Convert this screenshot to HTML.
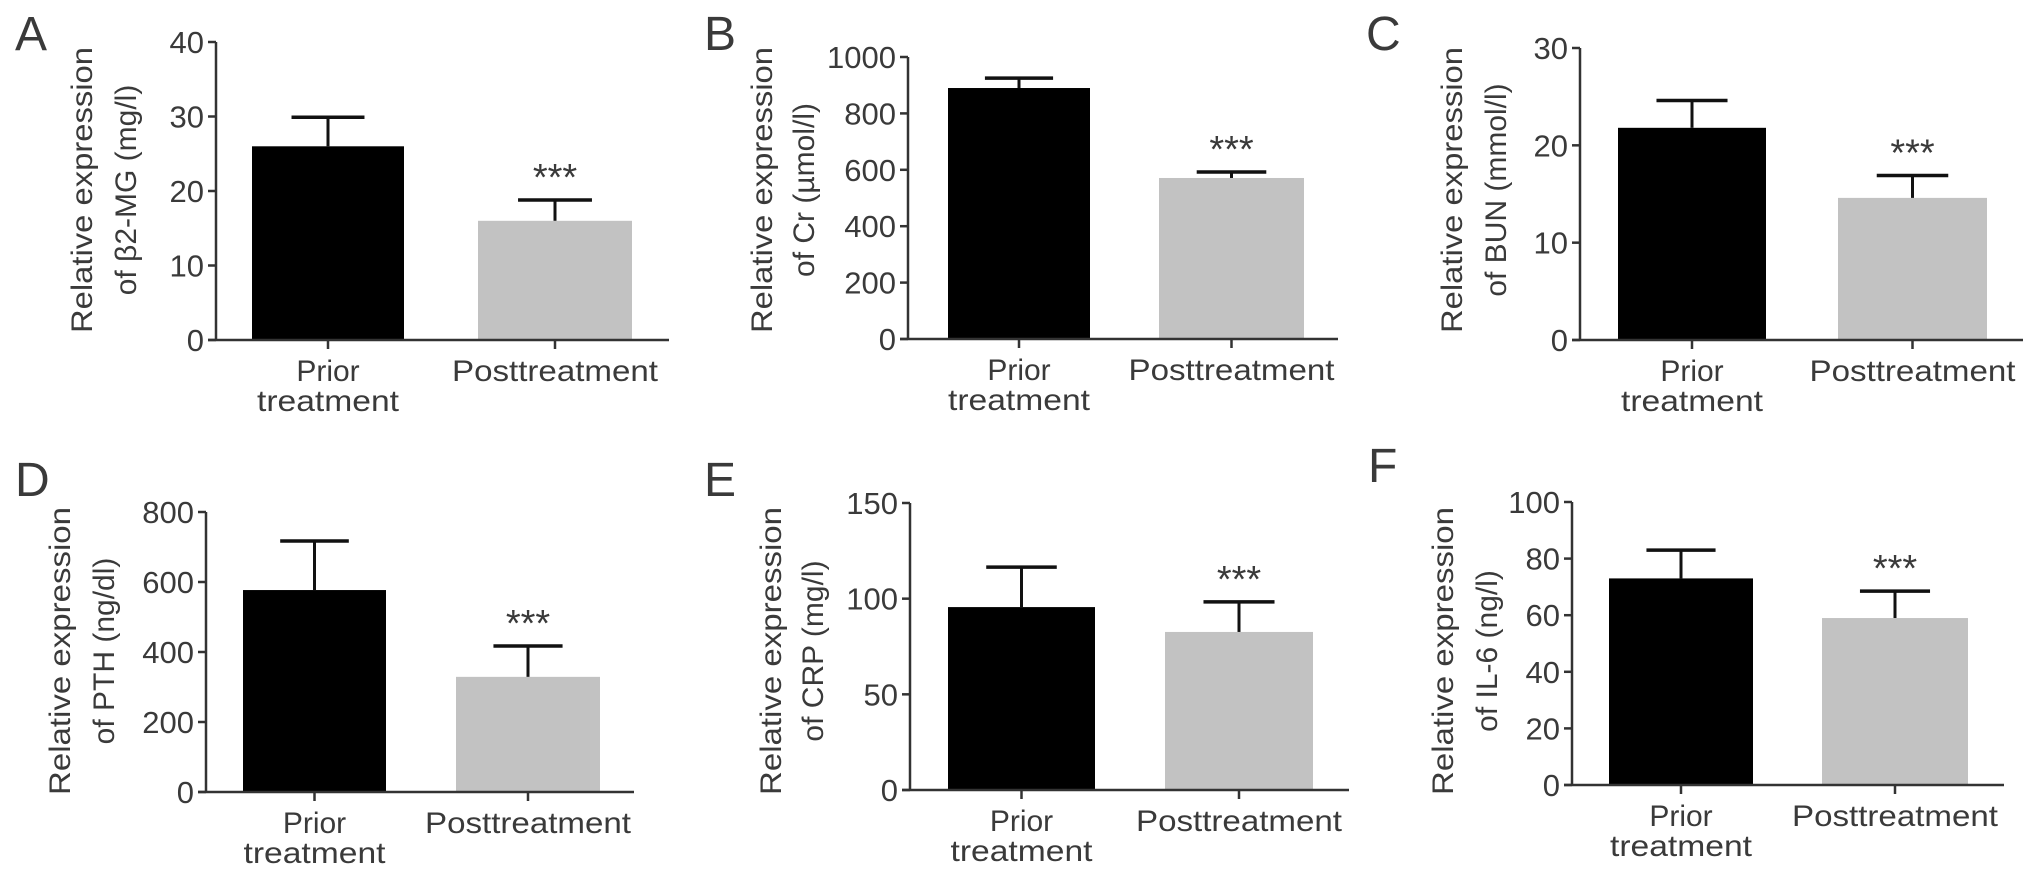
<!DOCTYPE html>
<html><head><meta charset="utf-8"><style>
html,body{margin:0;padding:0;background:#fff;}
svg text{font-family:"Liberation Sans",Arial,sans-serif;fill:#3a3a3a;}
</style></head><body>
<svg id="fig" width="2032" height="878" viewBox="0 0 2032 878" xmlns="http://www.w3.org/2000/svg"></svg>
<script>
const panelLetters = ["A","B","C","D","E","F"];
const categories = ["Prior treatment","Posttreatment"];
const yTitles1 = ["Relative expression","Relative expression","Relative expression","Relative expression","Relative expression","Relative expression"];
const yTitles2 = ["of \u03b22-MG (mg/l)","of Cr (\u00b5mol/l)","of BUN (mmol/l)","of PTH (ng/dl)","of CRP (mg/l)","of IL-6 (ng/l)"];
const yMaxes = [40, 1000, 30, 800, 150, 100];
const tickSteps = [10, 200, 10, 200, 50, 20];
const priorMeans = [26, 890, 21.8, 577, 95.6, 73];
const priorErrTops = [29.9, 925, 24.6, 717, 116.5, 83];
const postMeans = [16, 571, 14.6, 329, 82.6, 59];
const postErrTops = [18.8, 592, 16.9, 417, 98.3, 68.5];
const sigLabels = ["***","***","***","***","***","***"];

// layout (pixel geometry, not data)
const layout = [
 {ax:216,y0:340,yt:42,b1:[252,404],b2:[478,632],xe:669,lx:15,ly:50,t1:81,t2:125,tc:190,tl1:286,tl2:232},
 {ax:908,y0:339,yt:57,b1:[948,1090],b2:[1159,1304],xe:1338,lx:704,ly:50,t1:761,t2:803,tc:190,tl1:286,tl2:190},
 {ax:1580,y0:340,yt:48,b1:[1618,1766],b2:[1838,1987],xe:2023,lx:1366,ly:50,t1:1451,t2:1495,tc:190,tl1:286,tl2:230},
 {ax:206,y0:792,yt:512,b1:[243,386],b2:[456,600],xe:634,lx:15,ly:496,t1:59,t2:103,tc:651,tl1:288,tl2:205},
 {ax:910,y0:790,yt:503,b1:[948,1095],b2:[1165,1313],xe:1349,lx:704,ly:496,t1:770,t2:812,tc:651,tl1:288,tl2:205},
 {ax:1572,y0:785,yt:502,b1:[1609,1753],b2:[1822,1968],xe:2004,lx:1368,ly:482,t1:1442,t2:1486,tc:651,tl1:288,tl2:168}
];
const NS="http://www.w3.org/2000/svg";
const svg=document.getElementById('fig');
function mk(tag,attrs,parent){const e=document.createElementNS(NS,tag);for(const k in attrs)e.setAttribute(k,attrs[k]);(parent||svg).appendChild(e);return e;}

layout.forEach((L,i)=>{
  const g=mk('g',{});
  
  
  const yScale=v=>L.y0-(v/yMaxes[i])*(L.y0-L.yt);
  const lt=mk('text',{x:L.lx,y:L.ly,'font-size':48},g);lt.textContent=panelLetters[i];
  
  
  const t1=mk('text',{x:0,y:0,'font-size':30,'text-anchor':'middle',transform:`translate(${L.t1+11},${L.tc}) rotate(-90)`,textLength:L.tl1,lengthAdjust:'spacingAndGlyphs'},g);
  t1.textContent=yTitles1[i];
  
  
  const t2=mk('text',{x:0,y:0,'font-size':30,'text-anchor':'middle',transform:`translate(${L.t2+11},${L.tc}) rotate(-90)`},g);
  t2.textContent=yTitles2[i];
  
  
  const means=[priorMeans[i],postMeans[i]], errs=[priorErrTops[i],postErrTops[i]];
  [L.b1,L.b2].forEach((b,j)=>{
    const top=yScale(means[j]);
    const r=mk('rect',{x:b[0],y:top,width:b[1]-b[0],height:L.y0-top,fill:j==0?'#000':'#c2c2c2'},g);
    
    
    const cx=(b[0]+b[1])/2, et=yScale(errs[j]), hw=(b[1]-b[0])*0.24;
    const e1=mk('line',{x1:cx,x2:cx,y1:top,y2:et,stroke:'#111','stroke-width':3},g);
    
    
    const e2=mk('line',{x1:cx-hw,x2:cx+hw,y1:et,y2:et,stroke:'#111','stroke-width':3.5},g);
    
    
    if(j==1){
      const s=mk('text',{x:cx,y:et-10,'font-size':38,'text-anchor':'middle'},g);s.textContent=sigLabels[i];
      
      
    }
    const tk=mk('line',{x1:cx,x2:cx,y1:L.y0,y2:L.y0+9,stroke:'#333','stroke-width':2.5},g);
    
    
    if(j==0){
      const a=mk('text',{x:cx,y:L.y0+41,'font-size':30,'text-anchor':'middle'},g);a.textContent='Prior';
      
      
      const c=mk('text',{x:cx,y:L.y0+71,'font-size':30,'text-anchor':'middle',textLength:142,lengthAdjust:'spacingAndGlyphs'},g);c.textContent='treatment';
      
      
    } else {
      const a=mk('text',{x:cx,y:L.y0+41,'font-size':30,'text-anchor':'middle',textLength:206,lengthAdjust:'spacingAndGlyphs'},g);a.textContent=categories[1];
      
      
    }
  });
  const ya=mk('line',{x1:L.ax,x2:L.ax,y1:L.yt,y2:L.y0,stroke:'#333','stroke-width':2.5},g);
  
  
  const xa=mk('line',{x1:L.ax-8,x2:L.xe,y1:L.y0,y2:L.y0,stroke:'#333','stroke-width':2.5},g);
  
  
  for(let v=0;v<=yMaxes[i]+1e-9;v+=tickSteps[i]){
    const y=yScale(v);
    const tl=mk('line',{x1:L.ax-8,x2:L.ax,y1:y,y2:y,stroke:'#333','stroke-width':2.5},g);
    
    
    const tx=mk('text',{x:L.ax-12,y:y+11,'font-size':31,'text-anchor':'end'},g);tx.textContent=String(v);
    
    
  }
});
</script>
</body></html>
